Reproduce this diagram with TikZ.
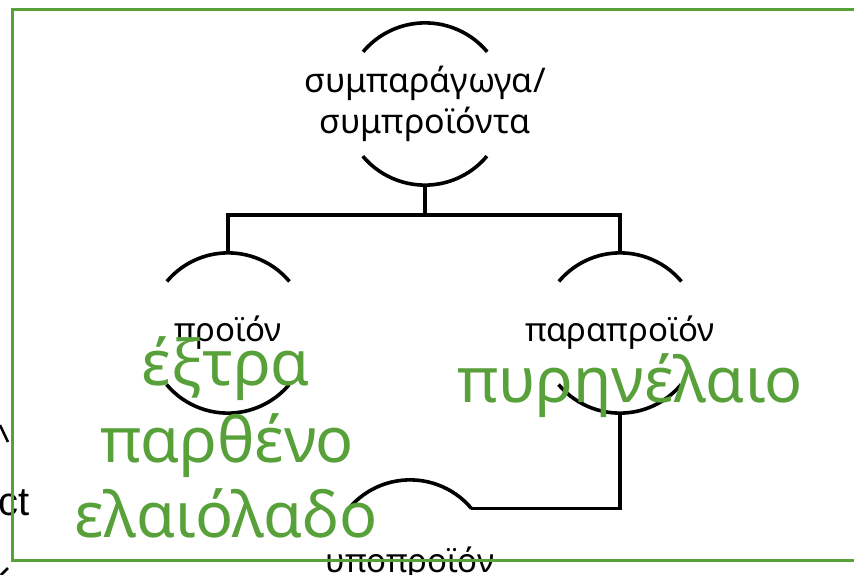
\documentclass[tikz,border=0pt]{standalone}
\usepackage{fontspec}
\setmainfont{Noto Sans}
\newfontfamily\arialfont{Liberation Sans}
\definecolor{leafgreen}{RGB}{88,160,58}

\newcommand{\brackets}[2]{%
  \draw[line width=3.6pt] (#1.40) arc[start angle=40,end angle=140,radius=#2];
  \draw[line width=3.6pt] (#1.-140) arc[start angle=-140,end angle=-40,radius=#2];}

\begin{document}
\begin{tikzpicture}[x=1pt,y=-1pt,
    ring/.style={circle,minimum size=160pt,inner sep=0pt},
    word/.style={align=center,font=\fontsize{33}{41}\selectfont},
    oil/.style={anchor=base,text=leafgreen,font=\fontsize{63}{76}\selectfont}]
  \useasboundingbox (0,0) rectangle (854,575);
  \clip (0,0) rectangle (854,575);
  \node[ring,minimum size=162pt,label={[word,font=\fontsize{34}{41}\selectfont]center:συμπαράγωγα/\\συμπροϊόντα}] (co) at (425,104) {};
  \node[ring,label={[word]center:προϊόν}] (prod) at (228,333) {};
  \node[ring,label={[word]center:παραπροϊόν}] (byp) at (620,333) {};
  \node[ring,label={[word,yshift=-4pt]center:υποπροϊόν}] (sub) at (410,560) {};
  \brackets{co}{81pt}
  \brackets{prod}{80pt}
  \brackets{byp}{80pt}
  \draw[line width=3.6pt] (sub.40) arc[start angle=40,end angle=140,radius=80pt];
  \coordinate (split) at (425,215);
  \draw[line width=3.6pt] (co.south) -- (split);
  \draw[line width=3.6pt] (prod.north) |- (split) -| (byp.north);
  \draw[line width=3.6pt] (byp.south) |- (sub.40);
  \node[anchor=base east,font=\arialfont\fontsize{40}{40}\selectfont] (cut) at (33,515) {ct};
  \draw[line width=2.5pt] (0,425) -- (8,442);
  \draw[line width=2.5pt] (1,575) -- (8,568);
  \node[oil] (oil1) at (226,385) {έξτρα};
  \node[oil] (oil2) at (227,462) {παρθένο};
  \node[oil] (oil3) at (226,537) {ελαιόλαδο};
  \node[oil] (pomace) at (630,402) {πυρηνέλαιο};
  \draw[leafgreen,line width=3pt] (870,10) -- (12,10) -- (12,560) -- (870,560);
\end{tikzpicture}
\end{document}
